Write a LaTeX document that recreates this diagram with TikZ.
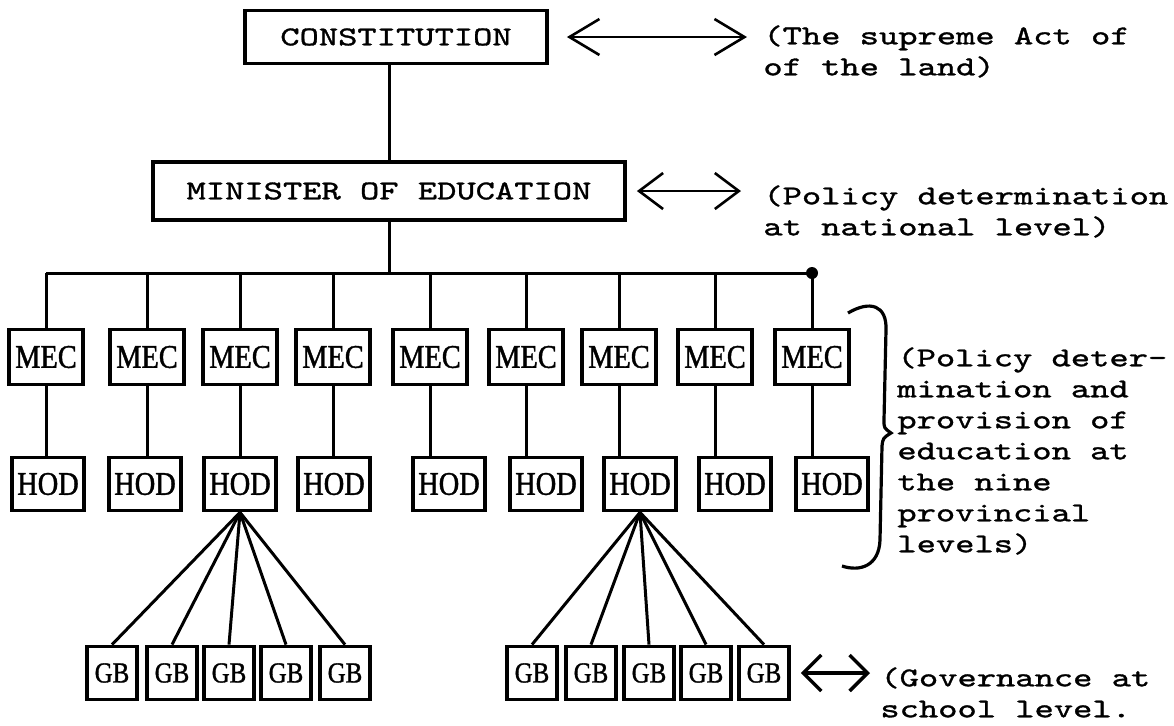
\documentclass[tikz,border=0pt]{standalone}
\usepackage{fontspec}
\newfontfamily\twfont[FakeStretch=1.35,FakeBold=1.2]{lmmono10-regular.otf}
\newfontfamily\boxfont[FakeStretch=0.86,FakeBold=1.2]{Liberation Serif}
\usetikzlibrary{arrows.meta,calc}
\tikzset{
  topbox/.style={rectangle,draw,line width=1.9pt,inner sep=0pt,
                 font=\twfont\fontsize{13.6}{15.5}\selectfont},
  unit/.style={rectangle,draw,line width=1.9pt,inner sep=0pt,
               minimum width=37pt,minimum height=27.5pt,
               font=\boxfont\fontsize{16.5}{16.5}\selectfont},
  gbox/.style={unit,minimum width=25pt,minimum height=26.5pt,
               font=\boxfont\fontsize{14.5}{14.5}\selectfont},
  link/.style={line width=1.5pt},
  twoway/.style={{Straight Barb[length=#1,width=18pt]}-{Straight Barb[length=#1,width=18pt]},
                 line width=1.3pt},
  twoway/.default=15pt,
  note/.style={anchor=north west,inner sep=0pt,align=left,
               font=\twfont\fontsize{13.6}{15.5}\selectfont},
}
\begin{document}
\begin{tikzpicture}[x=0.5pt,y=-0.5pt]
    \path[fill=white] (0,0) rectangle (1174,725);
    \useasboundingbox (0,0) rectangle (1174,725);

    \node[topbox,minimum width=151pt,minimum height=26.5pt] (con) at (396,37)
        {CONSTITUTION};
    \node[topbox,minimum width=236pt,minimum height=29pt] (min) at (389,191)
        {MINISTER OF EDUCATION};

    % nine provinces
    \foreach \i/\mx/\hx in {1/46/48,2/147/145,3/240/240,4/333/334,5/430/449,
                            6/526/546,7/619/640,8/715/735,9/812/832} {
      \node[unit] (mec\i) at (\mx,357) {MEC};
      \node[unit,minimum width=36pt,minimum height=26.5pt] (hod\i) at (\hx,484) {HOD};
    }

    \foreach \j/\gx in {1/112,2/172,3/229,4/286,5/345,
                        6/532,7/591,8/649,9/706,10/764}
      \node[gbox] (gb\j) at (\gx,673) {GB};

    \coordinate (bus) at (0,273);
    \draw[link] (min.north) -- (min.north |- con.south);
    \draw[link] (min.south) -- (min.south |- bus);
    \draw[link] (mec1.north |- bus) -- (mec9.north |- bus);
    \fill (mec9.north |- bus) circle (3pt);
    \foreach \i in {1,...,9} {
      \draw[link] (mec\i.north |- bus) -- (mec\i.north);
      \draw[link] (mec\i.south) -- (mec\i.south |- hod\i.north);
    }
    \foreach \j in {1,...,5}
      \draw[link] (hod3.south) -- (gb\j.north);
    \foreach \j in {6,...,10}
      \draw[link] (hod7.south) -- (gb\j.north);

    \node[note] (actnote) at (763,25) {(The supreme Act of\\of the land)};
    \node[note] (policynote) at (763,185) {(Policy determination\\at national level)};
    \node[note] (provnote) at (897,347)
        {(Policy deter-\\mination and\\provision of\\education at\\the nine\\provincial\\levels)};
    \node[note] (schoolnote) at (880,667) {(Governance at\\school level.};

    \draw[twoway,shorten <=9pt,shorten >=8pt] (con.east) -- (con.east -| actnote.west);
    \draw[twoway=12pt,shorten <=5pt,shorten >=11pt] (min.east) -- (min.east -| policynote.west);
    \draw[twoway=9pt,line width=1.7pt,shorten <=5pt,shorten >=5pt]
        (gb10.east) -- (gb10.east -| schoolnote.west);

    % brace
    \draw[line width=1.6pt] (848,313) .. controls (870,300) and (887,305) .. (886,330)
        -- (884,420) .. controls (884,428) .. (891,433) .. controls (883,438) .. (882,446)
        -- (880,540) .. controls (879,566) and (860,572) .. (842,566);

  \end{tikzpicture}
\end{document}
